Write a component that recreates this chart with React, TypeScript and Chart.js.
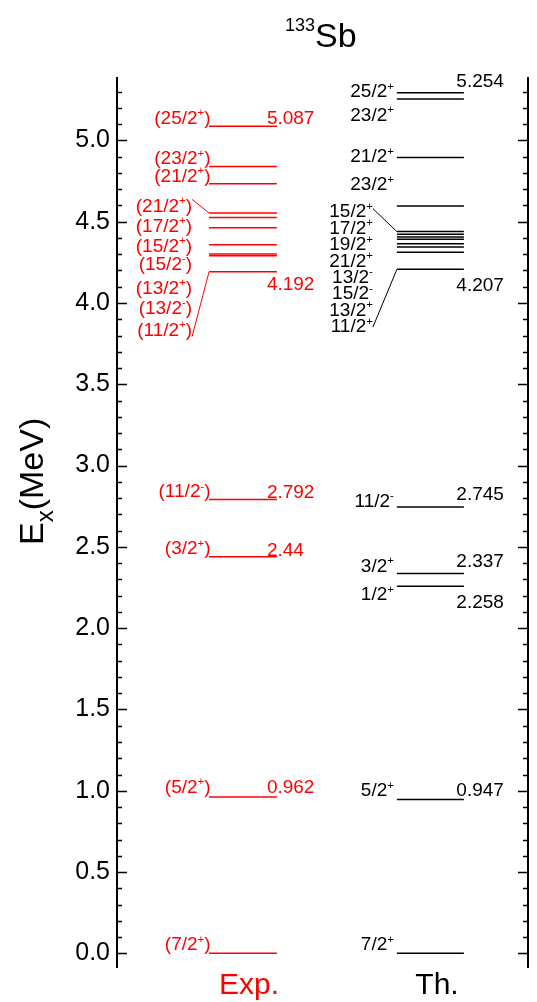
import React, { useEffect, useRef } from "react";
import { Chart, registerables } from "chart.js";

Chart.register(...registerables);

const FONT = "'Liberation Sans', Arial, Helvetica, sans-serif";

// ---------- data ----------
// Experimental levels of 133Sb (MeV), bottom to top
const expEnergies = [0, 0.962, 2.44, 2.792, 4.192, 4.291, 4.301, 4.358, 4.463, 4.526, 4.553, 4.733, 4.84, 5.087];
const expSpins = ["7/2", "5/2", "3/2", "11/2", "11/2", "13/2", "13/2", "15/2", "15/2", "17/2", "21/2", "21/2", "23/2", "25/2"];
const expParities = ["+", "+", "+", "-", "+", "-", "+", "-", "+", "+", "+", "+", "+", "+"];
const expEnergyLabels = ["", "0.962", "2.44", "2.792", "4.192", "", "", "", "", "", "", "", "", "5.087"];

// Theoretical levels (MeV), bottom to top
const thEnergies = [0, 0.947, 2.258, 2.337, 2.745, 4.207, 4.312, 4.344, 4.365, 4.392, 4.406, 4.423, 4.439, 4.596, 4.895, 5.254, 5.293];
const thSpins = ["7/2", "5/2", "1/2", "3/2", "11/2", "11/2", "13/2", "15/2", "13/2", "21/2", "19/2", "17/2", "15/2", "23/2", "21/2", "23/2", "25/2"];
const thParities = ["+", "+", "+", "+", "-", "+", "+", "-", "-", "+", "+", "+", "+", "+", "+", "+", "+"];
const thEnergyLabels = ["", "0.947", "2.258", "2.337", "2.745", "4.207", "", "", "", "", "", "", "", "", "", "5.254", ""];

const yTickValues = [0, 0.5, 1, 1.5, 2, 2.5, 3, 3.5, 4, 4.5, 5];
const Y_MIN = -0.09;
const Y_MAX = 5.39;

// ---------- layout (pixels / x-scale units) ----------
const EXP_LAYOUT = {
  x0: 22.4,
  x1: 38.9,
  color: "#ff0000",
  paren: true,
  spinRight: 1.5, // relative to line start
  spinDy: [-3, -4, -2.5, -2, 0, 0, 0, 0, 0, 0, 0, -2, -2, -2.5],
  clusterFrom: 4,
  clusterTo: 10,
  clusterRight: -17,
  clusterOffsets: [-1, 19, 38.5, 56.5, 80.5, 101, 122.5], // top -> bottom, relative to top cluster line
  connTopDy: -12.7,
  connBotDy: 1,
  energyAlign: "left" as CanvasTextAlign,
  energyDx: -10, // relative to line end
  energyDy: [0, -4, -1, -1, 18.5, 0, 0, 0, 0, 0, 0, 0, 0, -2],
};

const TH_LAYOUT = {
  x0: 68.1,
  x1: 84.4,
  color: "#000000",
  paren: false,
  spinRight: -3,
  spinDy: [-3, -3, 14, -1.5, 0, 0, 0, 0, 0, 0, 0, 0, 0, -15.7, 4.7, 21.7, 4.4],
  clusterFrom: 5,
  clusterTo: 12,
  clusterRight: -24,
  clusterOffsets: [-14.3, 2.1, 18.5, 34.9, 51.3, 67.7, 84.1, 100.5],
  connTopDy: -8.7,
  connBotDy: -5,
  energyAlign: "right" as CanvasTextAlign,
  energyDx: 40,
  energyDy: [0, -3, 22, -6.5, -7, 22, 0, 0, 0, 0, 0, 0, 0, 0, 0, -12, 0],
};

const LABEL_SIZE = 19;

function drawSpin(
  ctx: CanvasRenderingContext2D,
  right: number,
  base: number,
  j: string,
  parity: string,
  paren: boolean,
  color: string,
  size: number
) {
  const main = (paren ? "(" : "") + j;
  const supSize = size * 0.6;
  const mainFont = `${size}px ${FONT}`;
  const supFont = `${supSize}px ${FONT}`;
  ctx.font = mainFont;
  const wMain = ctx.measureText(main).width;
  const wClose = paren ? ctx.measureText(")").width : 0;
  ctx.font = supFont;
  const wSup = ctx.measureText(parity).width;
  let x = right - (wMain + wSup + wClose);
  ctx.fillStyle = color;
  ctx.textAlign = "left";
  ctx.textBaseline = "alphabetic";
  ctx.font = mainFont;
  ctx.fillText(main, x, base);
  x += wMain;
  ctx.font = supFont;
  ctx.fillText(parity, x, base - size * 0.4);
  x += wSup;
  if (paren) {
    ctx.font = mainFont;
    ctx.fillText(")", x, base);
  }
}

function drawColumn(
  chart: any,
  energies: number[],
  spins: string[],
  parities: string[],
  energyLabels: string[],
  L: typeof EXP_LAYOUT
) {
  const { ctx, scales } = chart;
  const xs = scales.x;
  const ys = scales.y;
  const xStart = xs.getPixelForValue(L.x0);
  const xEnd = xs.getPixelForValue(L.x1);
  ctx.save();
  // spin labels
  for (let i = 0; i < energies.length; i++) {
    if (i >= L.clusterFrom && i <= L.clusterTo) continue;
    const yp = ys.getPixelForValue(energies[i]);
    drawSpin(ctx, xStart + L.spinRight, yp + L.spinDy[i], spins[i], parities[i], L.paren, L.color, LABEL_SIZE);
  }
  // cluster labels
  const yTop = ys.getPixelForValue(energies[L.clusterTo]);
  const yBot = ys.getPixelForValue(energies[L.clusterFrom]);
  const cRight = xStart + L.clusterRight;
  const n = L.clusterTo - L.clusterFrom + 1;
  for (let k = 0; k < n; k++) {
    const idx = L.clusterTo - k;
    drawSpin(ctx, cRight, yTop + L.clusterOffsets[k], spins[idx], parities[idx], L.paren, L.color, LABEL_SIZE);
  }
  // connectors
  ctx.strokeStyle = L.color;
  ctx.lineWidth = 1;
  ctx.beginPath();
  ctx.moveTo(cRight, yTop + L.clusterOffsets[0] + L.connTopDy);
  ctx.lineTo(xStart, yTop);
  ctx.moveTo(cRight, yTop + L.clusterOffsets[n - 1] + L.connBotDy);
  ctx.lineTo(xStart, yBot);
  ctx.stroke();
  // energy labels
  ctx.font = `${LABEL_SIZE}px ${FONT}`;
  ctx.fillStyle = L.color;
  ctx.textAlign = L.energyAlign;
  ctx.textBaseline = "alphabetic";
  for (let i = 0; i < energies.length; i++) {
    if (!energyLabels[i]) continue;
    const yp = ys.getPixelForValue(energies[i]);
    ctx.fillText(energyLabels[i], xEnd + L.energyDx, yp + L.energyDy[i]);
  }
  ctx.restore();
}

const levelPlugin = {
  id: "levelDecor",
  afterDraw(chart: any) {
    const { ctx, chartArea: ca, scales } = chart;
    const ys = scales.y;
    ctx.save();
    // axis lines
    ctx.strokeStyle = "#000";
    ctx.lineWidth = 2;
    ctx.beginPath();
    ctx.moveTo(ca.left, ca.top);
    ctx.lineTo(ca.left, ca.bottom);
    ctx.moveTo(ca.right, ca.top);
    ctx.lineTo(ca.right, ca.bottom);
    ctx.stroke();
    // inward ticks: major every 0.5, minor every 0.1
    ctx.lineWidth = 1.6;
    ctx.beginPath();
    for (let k = 0; k <= 53; k++) {
      const v = k / 10;
      if (v > Y_MAX) break;
      const major = k % 5 === 0;
      const len = major ? 10 : 5;
      const yp = Math.round(ys.getPixelForValue(v)) + 0.5;
      ctx.moveTo(ca.left, yp);
      ctx.lineTo(ca.left + len, yp);
      ctx.moveTo(ca.right, yp);
      ctx.lineTo(ca.right - len, yp);
    }
    ctx.stroke();

    // columns
    drawColumn(chart, expEnergies, expSpins, expParities, expEnergyLabels, EXP_LAYOUT);
    drawColumn(chart, thEnergies, thSpins, thParities, thEnergyLabels, TH_LAYOUT);

    // title 133Sb
    ctx.fillStyle = "#000";
    ctx.textBaseline = "alphabetic";
    ctx.textAlign = "left";
    ctx.font = `34px ${FONT}`;
    ctx.fillText("Sb", 315, 47);
    ctx.textAlign = "right";
    ctx.font = `18px ${FONT}`;
    ctx.fillText("133", 315, 31);

    // column captions
    ctx.textAlign = "center";
    ctx.font = `30px ${FONT}`;
    ctx.fillStyle = "#ff0000";
    ctx.fillText("Exp.", 249, 994);
    ctx.fillStyle = "#000";
    ctx.fillText("Th.", 437, 994);

    // y-axis title E_x (MeV)
    ctx.translate(43, 545);
    ctx.rotate(-Math.PI / 2);
    ctx.textAlign = "left";
    ctx.font = `34px ${FONT}`;
    ctx.fillText("E", 0, 0);
    const wE = ctx.measureText("E").width;
    ctx.font = `24px ${FONT}`;
    ctx.fillText("x", wE, 10);
    const wX = ctx.measureText("x").width;
    ctx.font = `34px ${FONT}`;
    ctx.fillText("(MeV)", wE + wX, 0);
    ctx.restore();
  },
};

export default function App() {
  const ref = useRef<HTMLCanvasElement>(null);
  useEffect(() => {
    const canvas = ref.current;
    if (!canvas) return;
    const datasets: any[] = [];
    const addLevels = (energies: number[], L: typeof EXP_LAYOUT) => {
      energies.forEach((e) => {
        datasets.push({
          data: [
            { x: L.x0, y: e },
            { x: L.x1, y: e },
          ],
          borderColor: L.color,
          backgroundColor: L.color,
          borderWidth: 1.5,
          pointRadius: 0,
          showLine: true,
          fill: false,
        });
      });
    };
    addLevels(expEnergies, EXP_LAYOUT);
    addLevels(thEnergies, TH_LAYOUT);

    const chart = new Chart(canvas, {
      type: "scatter",
      data: { datasets },
      options: {
        animation: false,
        responsive: false,
        maintainAspectRatio: false,
        events: [],
        layout: { padding: { top: 77, bottom: 34, left: 0, right: 0 } },
        plugins: {
          legend: { display: false },
          tooltip: { enabled: false },
          title: { display: false },
        },
        scales: {
          x: { type: "linear", min: 0, max: 100, display: false },
          y: {
            type: "linear",
            position: "left",
            min: Y_MIN,
            max: Y_MAX,
            afterBuildTicks: (s: any) => {
              s.ticks = yTickValues.map((v) => ({ value: v }));
            },
            afterFit: (s: any) => {
              s.width = 117;
            },
            grid: { display: false, drawTicks: false },
            border: { display: false },
            ticks: {
              font: { family: FONT, size: 25 },
              color: "#000",
              padding: 7,
              callback: (v: any) => Number(v).toFixed(1),
            },
          },
          y2: {
            type: "linear",
            position: "right",
            min: Y_MIN,
            max: Y_MAX,
            afterFit: (s: any) => {
              s.width = 9;
            },
            grid: { display: false, drawTicks: false },
            border: { display: false },
            ticks: { display: false },
          },
        },
      } as any,
      plugins: [levelPlugin],
    });
    return () => chart.destroy();
  }, []);
  return (
    <div style={{ position: "absolute", left: 0, top: 0, width: 537, height: 1002 }}>
      <canvas ref={ref} width={537} height={1002} style={{ display: "block" }} />
    </div>
  );
}
